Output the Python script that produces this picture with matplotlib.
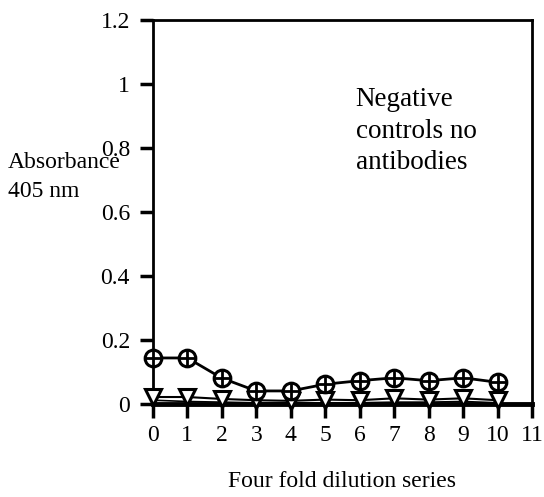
import matplotlib.pyplot as plt
import numpy as np

plt.rcParams['font.family'] = ['Liberation Serif', 'DejaVu Serif']

dilution = np.arange(0, 11)
circles = [0.144, 0.144, 0.081, 0.041, 0.041, 0.062, 0.073, 0.082, 0.073, 0.082, 0.068]
triangles = [0.022, 0.022, 0.016, 0.012, 0.010, 0.014, 0.012, 0.018, 0.014, 0.018, 0.012]
baseline = [0.012, 0.008, 0.006, 0.004, 0.004, 0.004, 0.004, 0.006, 0.006, 0.008, 0.004]

fig = plt.figure(figsize=(5.44, 4.97), dpi=100)
ax = fig.add_axes([0.281, 0.187, 0.697, 0.773])

ax.plot(dilution, baseline, '-', color='black', lw=1.2, clip_on=False, zorder=3)
ax.plot(dilution, triangles, '-', color='black', lw=1.5, clip_on=False, zorder=3)
ax.plot(dilution, triangles, 'v', color='black', mfc='white', mew=2.2, ms=12,
        clip_on=False, zorder=4)
ax.plot(dilution, circles, '-', color='black', lw=2, clip_on=False, zorder=3)
ax.plot(dilution, circles, 'o', color='black', mfc='white', mew=2.2, ms=12,
        clip_on=False, zorder=5)
ax.plot(dilution, circles, '+', color='black', mew=2, ms=12,
        clip_on=False, zorder=6)

ax.set_xlim(0, 11)
ax.set_ylim(0, 1.2)
ax.set_xticks(range(0, 12))
ax.set_yticks([0, 0.2, 0.4, 0.6, 0.8, 1, 1.2])
ax.set_yticklabels(['0', '0.2', '0.4', '0.6', '0.8', '1', '1.2'])
for s in ax.spines.values():
    s.set_linewidth(2)
ax.spines['bottom'].set_linewidth(3.5)
ax.tick_params(axis='y', direction='out', length=9.5, width=2.5, labelsize=17, pad=7)
ax.tick_params(axis='x', direction='out', length=10, width=2.5, labelsize=17, pad=5)

ax.set_xlabel('Four fold dilution series', fontsize=17, labelpad=18)
fig.text(0.015, 0.643, 'Absorbance\n405 nm', fontsize=17, va='center',
         linespacing=1.5)
ax.text(0.535, 0.71, 'Negative\ncontrols no\nantibodies', transform=ax.transAxes,
        fontsize=19.5, va='center', linespacing=1.35)

fig.savefig('out.png', dpi=100)
